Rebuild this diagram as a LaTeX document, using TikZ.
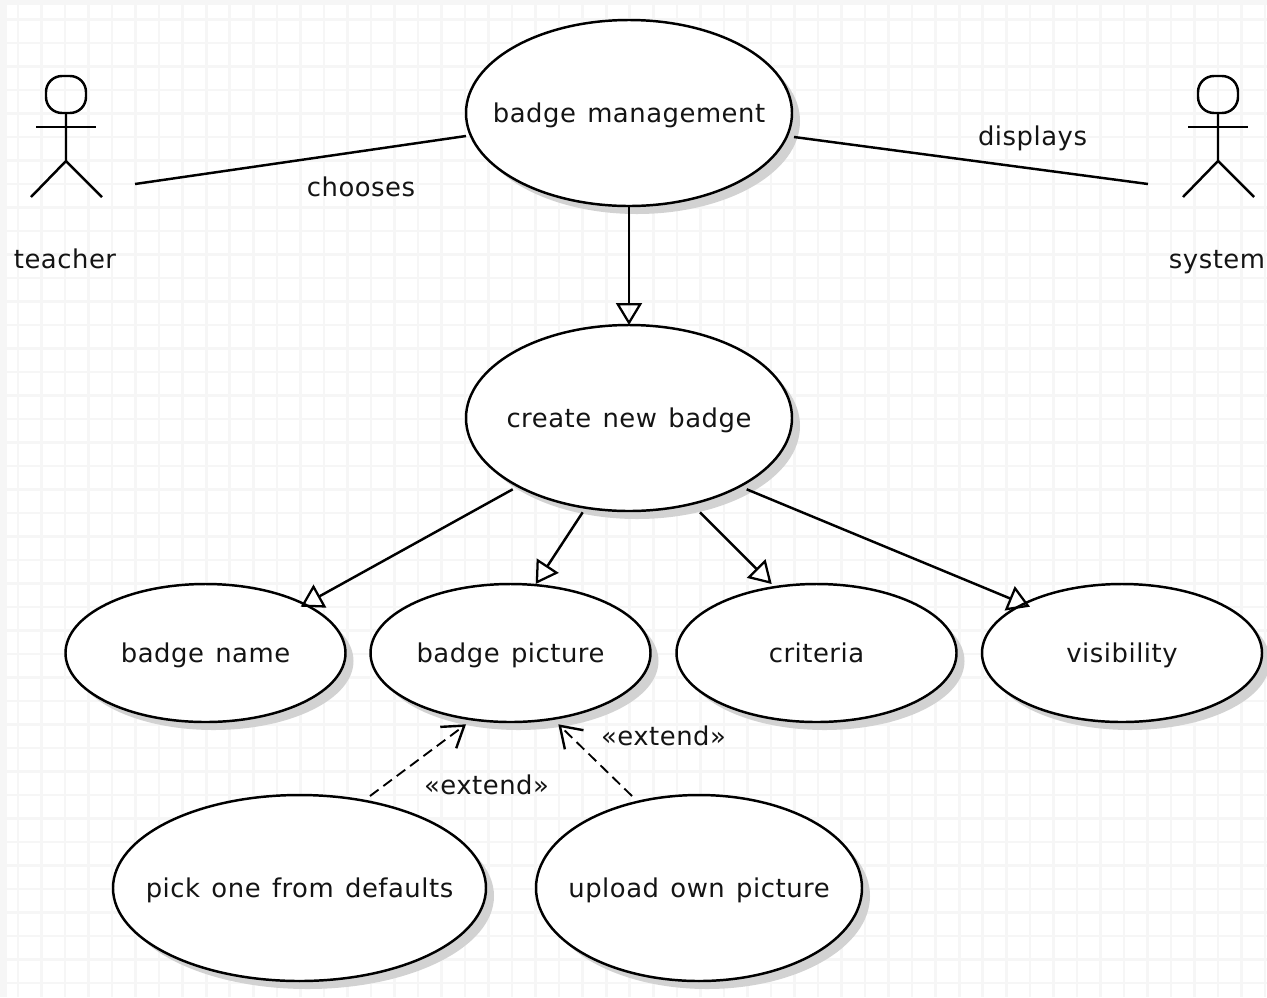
\documentclass[tikz,border=0pt]{standalone}
\usepackage{fontspec}
\setmainfont{DejaVu Sans}[LetterSpace=2,WordSpace=1.3]
\usetikzlibrary{shapes.geometric,arrows.meta}
\tikzset{
  x=0.75pt,y=-0.75pt,
  lbl/.style={inner sep=0pt,anchor=base,font=\fontsize{19.4}{24}\selectfont,text=black!92},
  usecase/.style={ellipse,draw=black,line width=1.85pt,fill=white,inner sep=0pt,outer sep=0pt},
  ln/.style={line width=1.85pt,black},
  gen/.style={ln,-{Triangle[open,length=16.5pt,width=19.5pt,line width=1.7pt]}},
  ext/.style={line width=1.4pt,black,dash pattern=on 8pt off 4.5pt,-{Straight Barb[length=15pt,width=20pt,line width=1.8pt]}},
}
\definecolor{gridc}{HTML}{F6F6F6}
\definecolor{shadowc}{HTML}{D2D2D2}
\newcommand{\usecasenode}[6]{%
  \fill[shadowc] (#3+8,#4+8) ellipse [x radius=#5,y radius=#6];
  \node[usecase,minimum width=#5*1.5pt,minimum height=#6*1.5pt] (#1) at (#3,#4) {};
  \node[lbl] (#1text) at (#3,#4+9.5) {#2};}
\newcommand{\actorfig}[1]{%
  \draw[ln,rounded corners=12pt] (#1-20,76) rectangle (#1+20,113);
  \draw[ln] (#1,113) -- (#1,161) -- (#1-35,197);
  \draw[ln] (#1,161) -- (#1+36,197);
  \draw[ln] (#1-30,127) -- (#1+30,127);}
\begin{document}
\begin{tikzpicture}
\useasboundingbox (0,0) rectangle (1267,997);
\fill[white] (0,0) rectangle (1267,997);
\fill[gridc] (0,0) rectangle (1267,5);
\fill[gridc] (0,0) rectangle (7,997);
\foreach \i in {0,...,53} \fill[gridc] ({18+\i*23.53-1.3},5) rectangle ({18+\i*23.53+1.3},997);
\foreach \i in {0,...,41} \fill[gridc] (7,{19.5+\i*23.5-1.3}) rectangle (1267,{19.5+\i*23.5+1.3});
% actors
\actorfig{66}
\actorfig{1218}
\node[lbl] (teacher) at (65,268) {teacher};
\node[lbl] (system) at (1217,268) {system};
% use cases
\usecasenode{bm}{badge management}{629}{113}{163}{93}
\usecasenode{cb}{create new badge}{629}{418}{163}{93}
\usecasenode{bn}{badge name}{205.5}{653}{140}{69}
\usecasenode{bp}{badge picture}{510.5}{653}{140}{69}
\usecasenode{cr}{criteria}{816.5}{653}{140}{69}
\usecasenode{vi}{visibility}{1122}{653}{140}{69}
\usecasenode{pd}{pick one from defaults}{299.5}{888}{186.5}{93}
\usecasenode{uo}{upload own picture}{699}{888}{163}{93}
% free ends
\coordinate (tc) at (135,184);
\coordinate (sc) at (1148,184);
\coordinate (bmL) at (466,136);
\coordinate (bmR) at (794,137);
\coordinate (cb1) at (512.7,489.3);
\coordinate (cb2) at (582.7,512.3);
\coordinate (cb3) at (700,512.3);
\coordinate (cb4) at (746.7,489.3);
\coordinate (t1) at (300.7,606.7);
\coordinate (t2) at (535.7,584);
\coordinate (t3) at (771.7,584);
\coordinate (t4) at (1030,606.7);
\coordinate (pd1) at (370,796);
\coordinate (uo1) at (632,796);
\coordinate (h1) at (466,724.3);
\coordinate (h2) at (558.3,724.3);
% connectors
\draw[ln] (tc) -- (bmL);
\draw[ln] (bmR) -- (sc);
\draw[gen] (bm) -- (cb);
\draw[gen] (cb1) -- (t1);
\draw[gen] (cb2) -- (t2);
\draw[gen] (cb3) -- (t3);
\draw[gen] (cb4) -- (t4);
\draw[ext] (pd1) -- (h1);
\draw[ext] (uo1) -- (h2);
% labels
\node[lbl] (lc) at (361,196) {chooses};
\node[lbl] (ld) at (1032.5,145) {displays};
\node[lbl] (le1) at (486.5,794) {«extend»};
\node[lbl] (le2) at (663.5,745) {«extend»};
\end{tikzpicture}
\end{document}
